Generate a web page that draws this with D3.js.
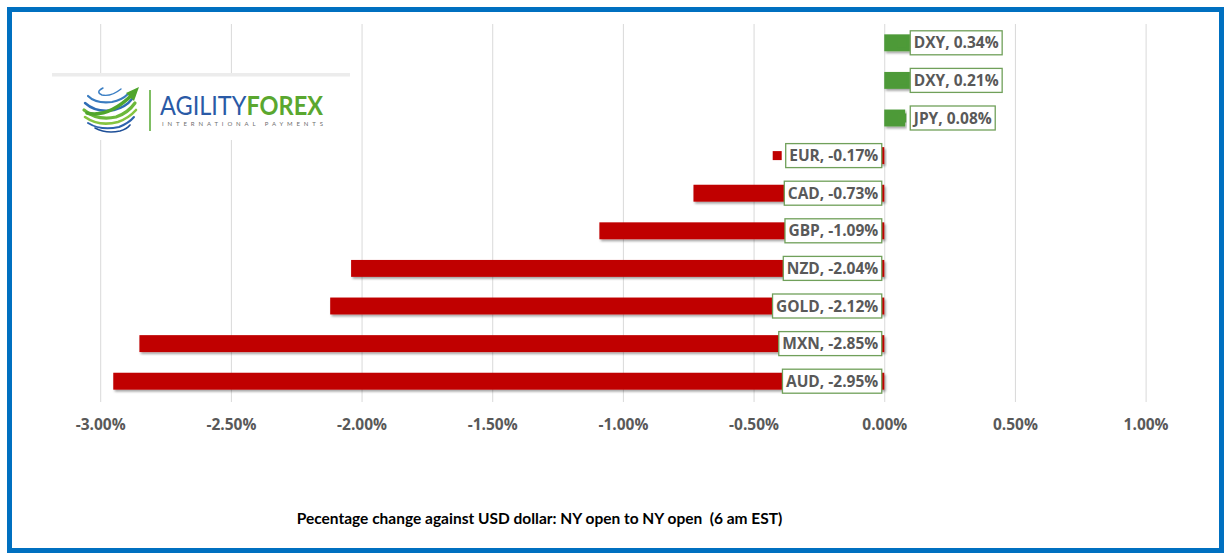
<!DOCTYPE html>
<html><head><meta charset="utf-8">
<script src="https://cdn.jsdelivr.net/npm/d3@7"></script>
<style>
html,body{margin:0;padding:0;background:#fff;}
svg{display:block;}
</style></head>
<body>
<svg id="chart" width="1229" height="556"></svg>
<script>
// ---- data ----
const categories = ["DXY","DXY","JPY","EUR","CAD","GBP","NZD","GOLD","MXN","AUD"];
const values = [0.34,0.21,0.08,-0.17,-0.73,-1.09,-2.04,-2.12,-2.85,-2.95];
const tickValues = [-3,-2.5,-2,-1.5,-1,-0.5,0,0.5,1];
const titleText = "Pecentage change against USD dollar: NY open to NY open  (6 am EST)";

const svg = d3.select("#chart");

// frame
svg.append("rect").attr("x",9.5).attr("y",9.5).attr("width",1212).attr("height",541)
  .attr("fill","#fff").attr("stroke","#0070C0").attr("stroke-width",5);

const defs = svg.append("defs");
const f = defs.append("filter").attr("id","shadow").attr("x","-5%").attr("y","-30%").attr("width","110%").attr("height","180%");
f.append("feDropShadow").attr("dx",1.5).attr("dy",2).attr("stdDeviation",1.2).attr("flood-color","#000").attr("flood-opacity",0.35);

const x = d3.scaleLinear().domain([-3,1]).range([100.2,1145.6]);
const idx = d3.range(categories.length);
const y = d3.scaleBand().domain(idx).range([24,400]).paddingInner(0.55).paddingOuter(0.275);

// gridlines
const grid = svg.append("g").attr("transform","translate(0,402)")
  .call(d3.axisBottom(x).tickValues(tickValues).tickSize(-378).tickFormat(""));
grid.select(".domain").remove();
grid.selectAll("line").attr("stroke","#d9d9d9").attr("stroke-width",1);

// logo
const logo = svg.append("g");
logo.append("rect").attr("x",52).attr("y",73).attr("width",298).attr("height",67).attr("fill","#fff");
logo.append("rect").attr("x",52).attr("y",73).attr("width",298).attr("height",3.5).attr("fill","#ececec");
const stripes = [
  {d:"M103,88 Q95,92 102,95 Q111,97 121,89", c:"#3b7fc4", w:1.4},
  {d:"M88,96 Q96,104 112,102 Q122,100 128,94", c:"#3a7cc0", w:2.2},
  {d:"M85,103 Q96,113 114,110 Q126,107 132,99", c:"#2f6db5", w:2.4},
  {d:"M84,110 Q97,121 116,117 Q128,113 135,103", c:"#6bb83a", w:3.2},
  {d:"M85,117 Q99,127 118,122 Q129,118 136,110", c:"#86c440", w:2.6},
  {d:"M88,123 Q101,131 119,127 Q129,123 134,117", c:"#2d62ad", w:2},
  {d:"M95,128 Q106,134 120,131 Q127,129 130,125", c:"#1e4f98", w:1.6}
];
logo.selectAll("path.stripe").data(stripes).join("path").attr("class","stripe")
  .attr("d",d=>d.d).attr("fill","none").attr("stroke",d=>d.c).attr("stroke-width",d=>d.w).attr("stroke-linecap","round");
logo.append("path").attr("d","M87,113 Q108,118 132,95").attr("fill","none").attr("stroke","#4fa52d").attr("stroke-width",3.5).attr("stroke-linecap","round");
logo.append("path").attr("d","M126,93 L139,87 L134,101 Z").attr("fill","#4fa52d");
logo.append("line").attr("x1",150).attr("x2",150).attr("y1",90).attr("y2",131).attr("stroke","#5fae3c").attr("stroke-width",1.6);
const brandG = logo.append("g");
const brand = brandG.append("text").attr("x",0).attr("y",0).attr("font-family","Lato, sans-serif").attr("font-size",27);
brand.append("tspan").attr("font-weight",400).attr("fill","#2a5aa6").text("AGILITY");
brand.append("tspan").attr("font-weight",700).attr("fill","#5aa72f").text("FOREX");
const bwNat = brand.node().getComputedTextLength();
brandG.attr("transform",`translate(160,115) scale(${163/bwNat},1)`);
logo.append("text").attr("x",162).attr("y",125.5).attr("font-family","Lato, sans-serif").attr("font-weight",400)
  .attr("font-size",6).attr("fill","#6d6d6d").attr("textLength",161).attr("lengthAdjust","spacing").text("INTERNATIONAL PAYMENTS");

// bars
svg.append("g").selectAll("rect").data(idx).join("rect")
  .attr("x",i=>x(Math.min(0,values[i])))
  .attr("y",i=>y(i))
  .attr("width",i=>Math.abs(x(values[i])-x(0)))
  .attr("height",y.bandwidth())
  .attr("fill",i=>values[i]<0?"#C00000":"#4E9A38")
  .attr("filter","url(#shadow)");

// data labels
const fmt = v => v.toFixed(2)+"%";
const lab = svg.append("g");
idx.forEach(i=>{
  const v = values[i];
  const cy = y(i)+y.bandwidth()/2;
  const g = lab.append("g");
  const t = g.append("text").attr("y",cy).attr("dy","0.36em")
    .attr("font-family","'Open Sans', sans-serif").attr("font-weight",700).attr("font-size",15.5)
    .attr("fill","#595959").text(categories[i]+", "+fmt(v));
  const tw = t.node().getComputedTextLength();
  const bw = tw+7;
  const bx = v<0 ? x(0)-2.5-bw : x(0)+26;
  g.insert("rect","text").attr("x",bx).attr("y",cy-12).attr("width",bw).attr("height",24)
    .attr("fill","#fff").attr("stroke","#70A05A").attr("stroke-width",1.3);
  t.attr("x",bx+3.5);
  g.append("rect").attr("x",bx-13).attr("y",cy-4.5).attr("width",9).attr("height",9)
    .attr("fill",v<0?"#C00000":"#4E9A38");
});

// axis labels
const ax = svg.append("g").attr("transform","translate(0,402)")
  .call(d3.axisBottom(x).tickValues(tickValues).tickSize(0).tickPadding(0).tickFormat(fmt));
ax.select(".domain").remove();
ax.selectAll("text").attr("y",22).attr("dy","0.36em")
  .attr("font-family","'Open Sans', sans-serif").attr("font-weight",700).attr("font-size",15.5).attr("fill","#595959");

// title
svg.append("text").attr("x",539.5).attr("y",519).attr("dy","0.35em").attr("text-anchor","middle")
  .attr("font-family","Lato, sans-serif").attr("font-weight",700).attr("font-size",15.5)
  .attr("fill","#000").style("white-space","pre").text(titleText);
</script>
</body></html>
